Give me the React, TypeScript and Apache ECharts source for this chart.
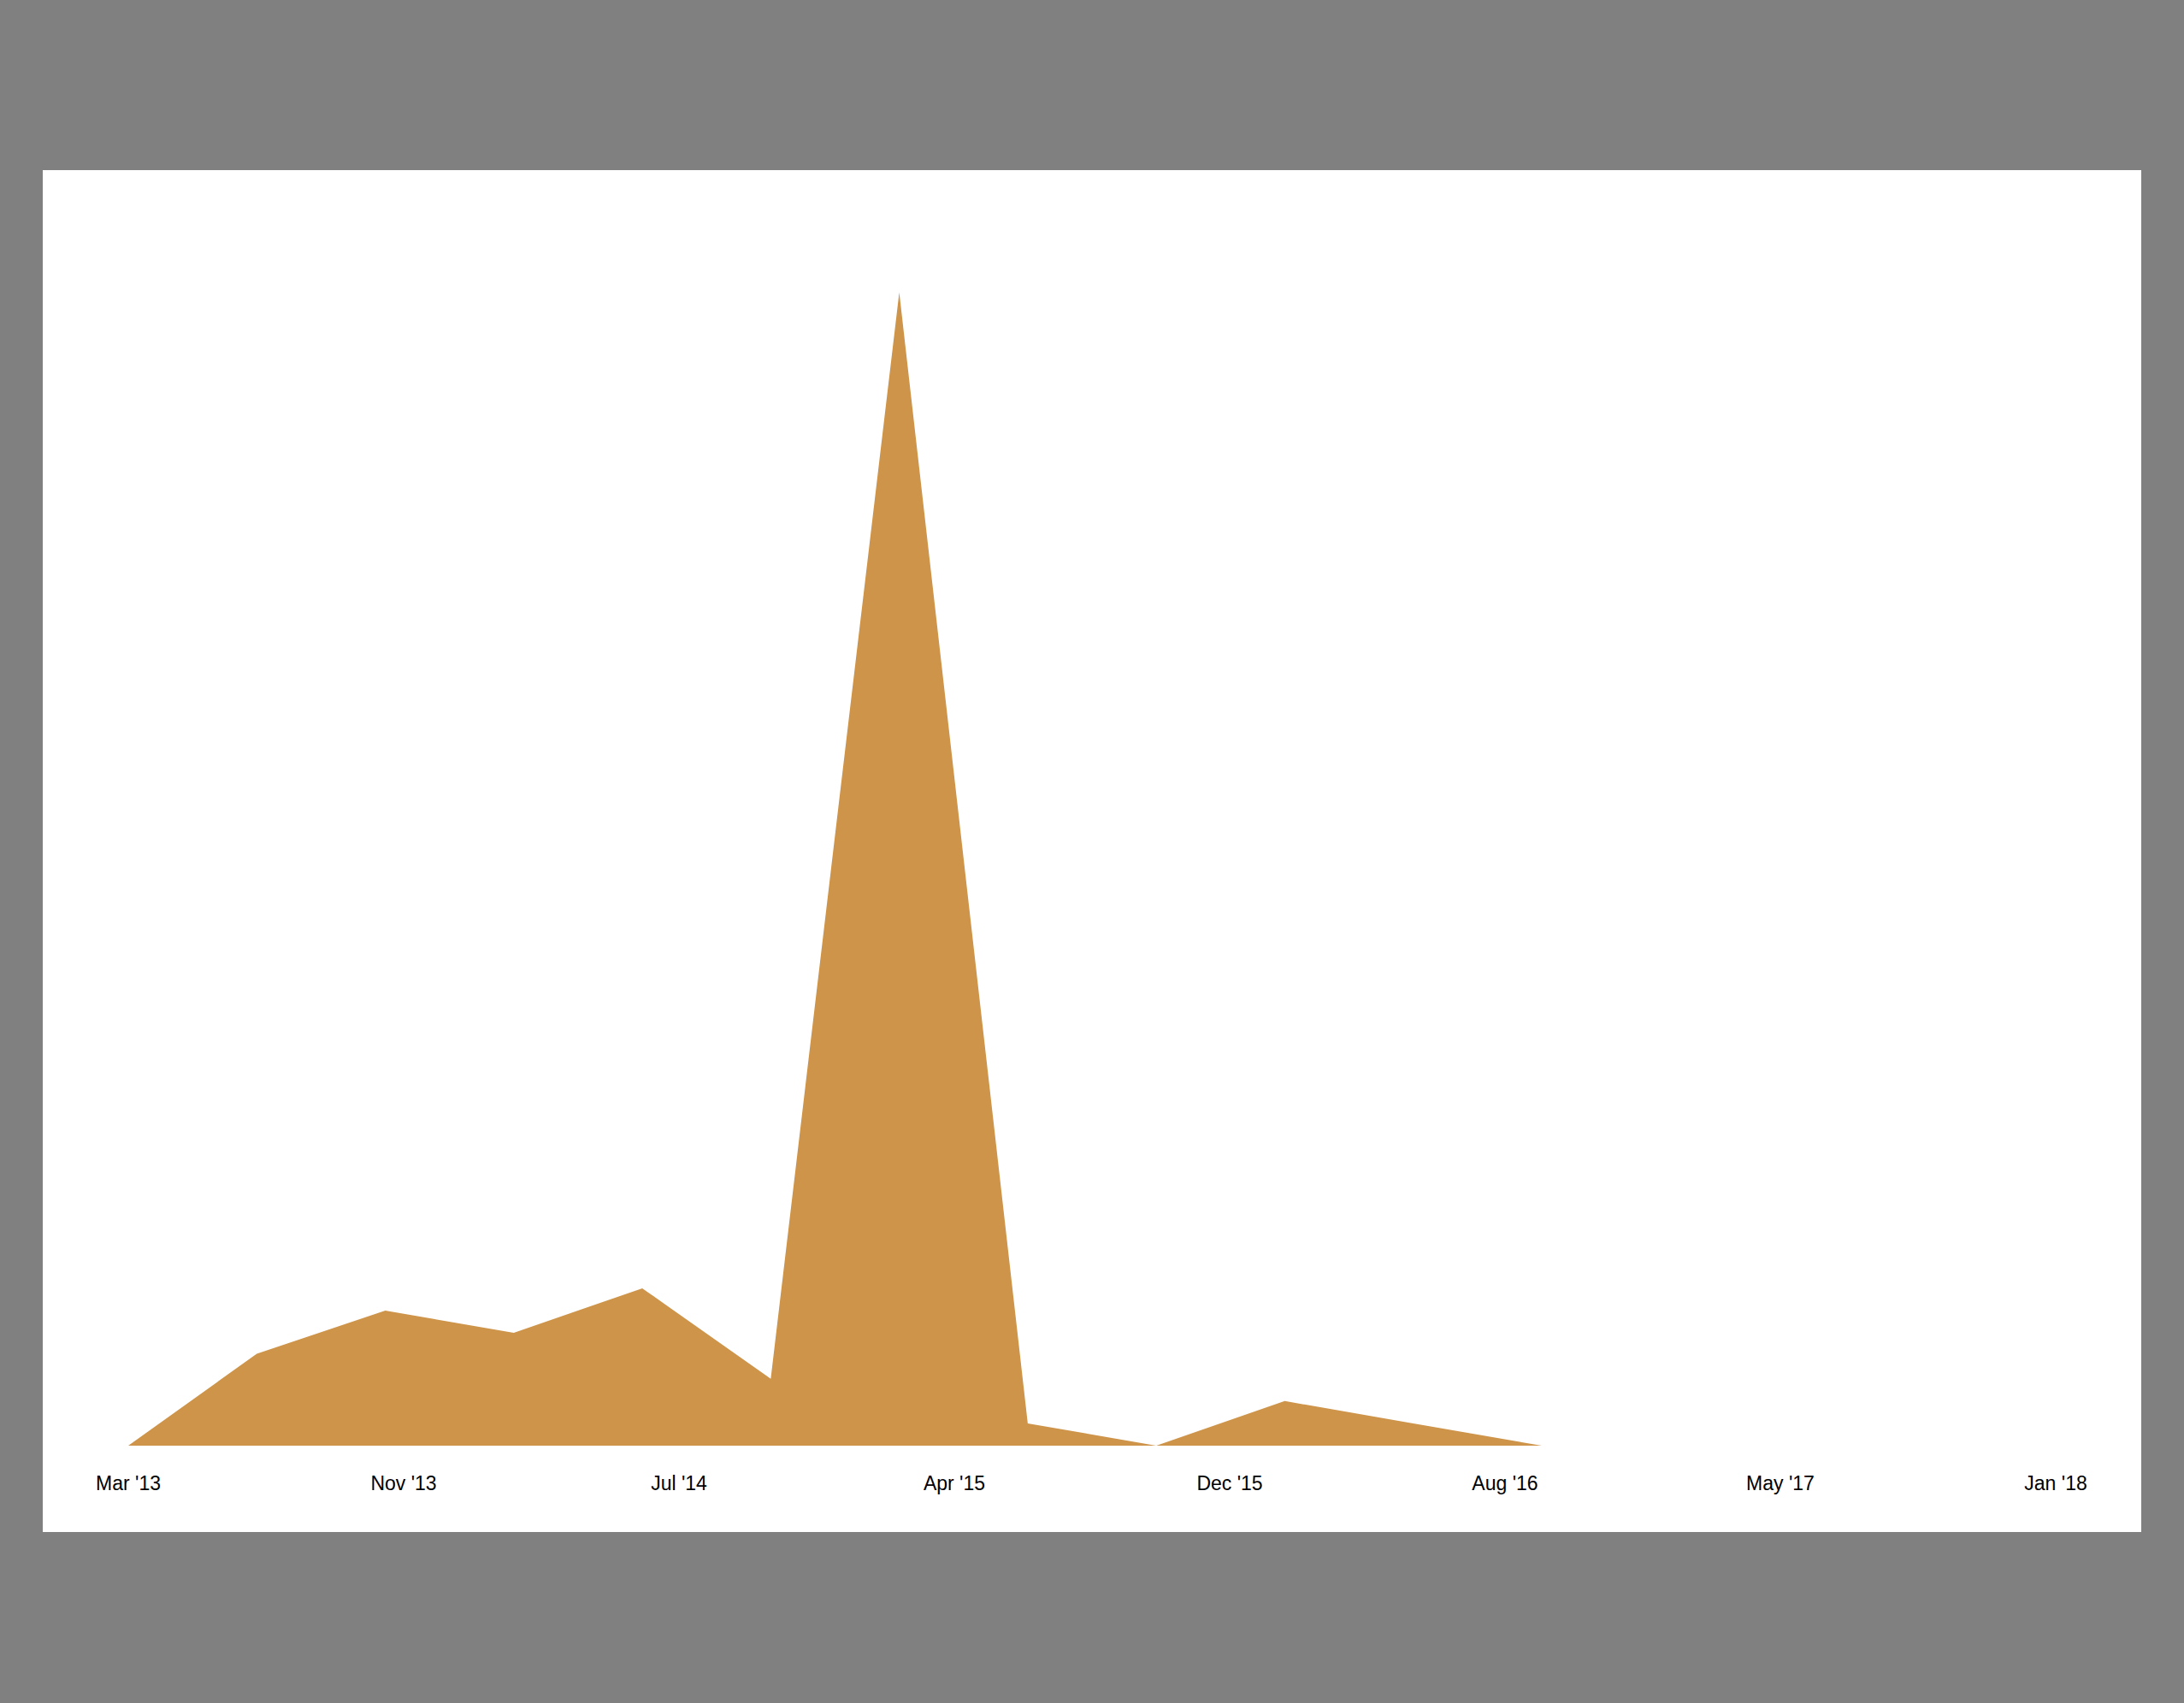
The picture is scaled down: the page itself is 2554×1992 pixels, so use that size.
import React, { useEffect, useRef } from "react";
import * as echarts from "echarts";

const tickLabels = ["Mar '13", "Nov '13", "Jul '14", "Apr '15", "Dec '15", "Aug '16", "May '17", "Jan '18"];
const values = [0, 66, 97, 81, 113, 48, 828, 16, 0, 32, 16, 0];

export default function App() {
  const ref = useRef<HTMLDivElement>(null);
  useEffect(() => {
    document.body.style.margin = "0";
    const chart = echarts.init(ref.current!, null, { renderer: "svg" });
    const step = 15 / 7;
    chart.setOption({
      animation: false,
      grid: { left: 150, right: 150, top: 342, bottom: 301 },
      xAxis: {
        type: "value",
        min: 0,
        max: 15,
        interval: step,
        axisLine: { show: false },
        axisTick: { show: false },
        splitLine: { show: false },
        axisLabel: {
          margin: 32,
          fontSize: 23,
          color: "#000",
          fontFamily: "Liberation Sans, Arial, sans-serif",
          formatter: (v: number) => tickLabels[Math.round(v / step)] ?? "",
        },
      },
      yAxis: { type: "value", min: 0, max: 828, show: false, splitLine: { show: false } },
      series: [
        {
          type: "line",
          data: values.map((v, i) => [i, v]),
          symbol: "none",
          lineStyle: { width: 0 },
          areaStyle: { color: "#CD944A", opacity: 1 },
        },
      ],
    });
    return () => chart.dispose();
  }, []);
  return (
    <div style={{ position: "relative", width: 2554, height: 1992, background: "#808080" }}>
      <div style={{ position: "absolute", left: 50, top: 199, width: 2454, height: 1593, background: "#fff" }} />
      <div ref={ref} style={{ position: "absolute", left: 0, top: 0, width: 2554, height: 1992 }} />
    </div>
  );
}
